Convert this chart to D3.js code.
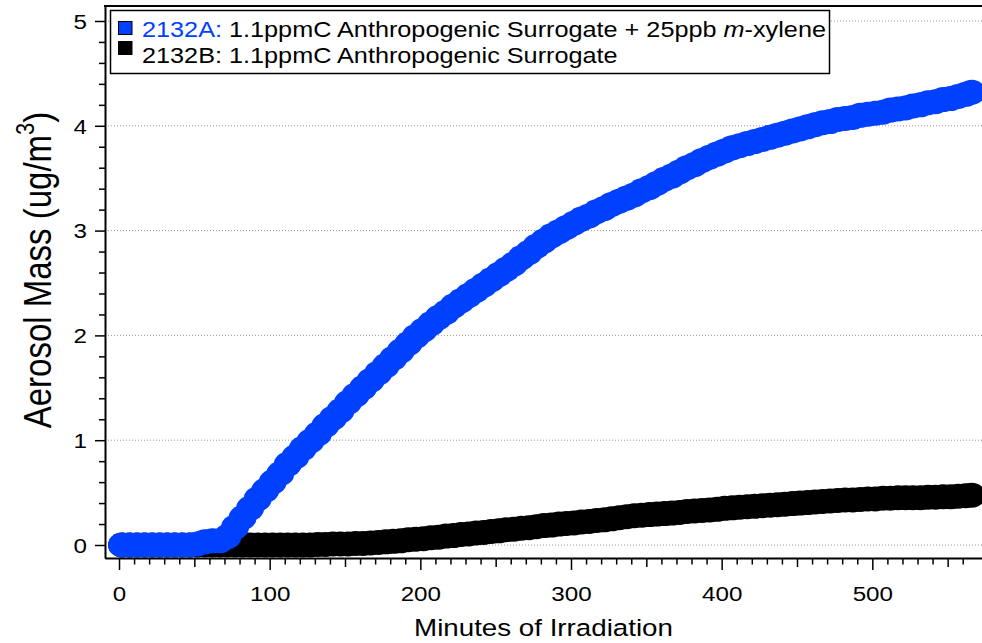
<!DOCTYPE html>
<html>
<head>
<meta charset="utf-8">
<script src="https://cdn.jsdelivr.net/npm/d3@7"></script>
<style>
  body { margin: 0; background: #fff; }
  svg { display: block; font-family: 'Liberation Sans', Arial, sans-serif; }
</style>
</head>
<body>
<div id="main"></div>
<script>
// minutes of irradiation (sampling times)
const minutes = [
  2, 7, 12, 17, 22, 27, 32, 37, 42, 47,
  52, 57, 62, 67, 72, 77, 82, 87, 92, 97,
  102, 107, 112, 117, 122, 127, 132, 137, 142, 147,
  152, 157, 162, 167, 172, 177, 182, 187, 192, 197,
  202, 207, 212, 217, 222, 227, 232, 237, 242, 247,
  252, 257, 262, 267, 272, 277, 282, 287, 292, 297,
  302, 307, 312, 317, 322, 327, 332, 337, 342, 347,
  352, 357, 362, 367, 372, 377, 382, 387, 392, 397,
  402, 407, 412, 417, 422, 427, 432, 437, 442, 447,
  452, 457, 462, 467, 472, 477, 482, 487, 492, 497,
  502, 507, 512, 517, 522, 527, 532, 537, 542, 547,
  552, 557, 562, 566
]

// 2132A: surrogate + 25ppb m-xylene
const massA = [
  0, 0, 0, 0, 0, 0, 0, 0, 0, 0,
  0.01, 0.03, 0.04, 0.04, 0.08, 0.17, 0.26, 0.35, 0.44, 0.52,
  0.60, 0.68, 0.77, 0.84, 0.92, 0.99, 1.06, 1.14, 1.21, 1.28,
  1.36, 1.43, 1.50, 1.57, 1.64, 1.71, 1.78, 1.85, 1.92, 1.99,
  2.05, 2.11, 2.17, 2.22, 2.28, 2.33, 2.38, 2.43, 2.48, 2.53,
  2.58, 2.63, 2.68, 2.74, 2.79, 2.85, 2.90, 2.95, 2.99, 3.03,
  3.07, 3.11, 3.14, 3.18, 3.21, 3.25, 3.28, 3.31, 3.34, 3.38,
  3.41, 3.45, 3.49, 3.52, 3.56, 3.60, 3.63, 3.67, 3.70, 3.73,
  3.76, 3.79, 3.81, 3.83, 3.85, 3.87, 3.89, 3.91, 3.93, 3.95,
  3.97, 3.99, 4.01, 4.03, 4.04, 4.06, 4.07, 4.08, 4.10, 4.11,
  4.12, 4.13, 4.15, 4.16, 4.17, 4.19, 4.20, 4.22, 4.23, 4.25,
  4.26, 4.28, 4.30, 4.32
]

// 2132B: surrogate only
const massB = [
  0, 0, 0, 0, 0, 0, 0, 0, 0, 0,
  0, 0, 0, 0, 0, 0, 0, 0, 0, 0,
  0, 0, 0, 0, 0, 0, 0.005, 0.005, 0.01, 0.01,
  0.01, 0.015, 0.015, 0.02, 0.025, 0.03, 0.035, 0.04, 0.05, 0.055,
  0.06, 0.07, 0.075, 0.085, 0.09, 0.10, 0.105, 0.115, 0.12, 0.13,
  0.135, 0.145, 0.15, 0.16, 0.165, 0.175, 0.185, 0.19, 0.20, 0.205,
  0.21, 0.22, 0.225, 0.235, 0.24, 0.25, 0.26, 0.27, 0.28, 0.285,
  0.29, 0.295, 0.30, 0.305, 0.31, 0.32, 0.325, 0.33, 0.335, 0.34,
  0.35, 0.355, 0.36, 0.365, 0.37, 0.375, 0.38, 0.385, 0.39, 0.395,
  0.40, 0.405, 0.41, 0.415, 0.42, 0.425, 0.43, 0.43, 0.435, 0.44,
  0.44, 0.445, 0.445, 0.45, 0.45, 0.45, 0.45, 0.455, 0.455, 0.46,
  0.46, 0.465, 0.47, 0.475
]

const xTicks = [0, 100, 200, 300, 400, 500]
const yTicks = [0, 1, 2, 3, 4, 5]

const w = 982, h = 643
const plotL = 105, plotR = 982, plotT = 6, plotB = 558
const blue = '#0040ff'
const sx = 1.18   // picture is a bit wider than tall, text follows

const svg = d3.select('#main')
            .append('svg')
            .attr('width', w)
            .attr('height', h)

const xScale = d3.scaleLinear()
                .domain([-9.3, 572.8])
                .range([plotL, plotR])

const yScale = d3.scaleLinear()
                .domain([-0.124, 5.143])
                .range([plotB, plotT])

// gridlines
svg.append('g')
    .selectAll('line')
    .data(yTicks)
    .enter()
    .append('line')
    .attr('x1', plotL)
    .attr('x2', plotR)
    .attr('y1', d => yScale(d))
    .attr('y2', d => yScale(d))
    .attr('stroke', '#9a9a9a')
    .attr('stroke-width', 1)
    .attr('stroke-dasharray', '1,2')

// markers: B first, A drawn on top
const rx = 14, ry = 12.5
svg.append('g')
    .selectAll('ellipse')
    .data(minutes)
    .enter()
    .append('ellipse')
    .attr('cx', d => xScale(d))
    .attr('cy', (d, i) => yScale(massB[i]))
    .attr('rx', rx)
    .attr('ry', ry)
    .attr('fill', '#000')

svg.append('g')
    .selectAll('ellipse')
    .data(minutes)
    .enter()
    .append('ellipse')
    .attr('cx', d => xScale(d))
    .attr('cy', (d, i) => yScale(massA[i]))
    .attr('rx', rx)
    .attr('ry', ry)
    .attr('fill', blue)

// axes
const xMinor = d3.range(10, 570, 10).filter(d => d % 100 !== 0)
const xAxisMinor = d3.axisBottom(xScale)
                    .tickValues(xMinor)
                    .tickSize(1)
                    .tickFormat('')
const gxm = svg.append('g')
    .attr('transform', 'translate(0,' + plotB + ')')
    .call(xAxisMinor)
gxm.selectAll('.tick line')
    .attr('y2', d => d % 50 === 0 ? 9 : 6.5)
    .attr('stroke-width', 1.5)

const xAxis = d3.axisBottom(xScale)
                .tickValues(xTicks)
                .tickSize(12)
                .tickFormat(d3.format('d'))
                .tickSizeOuter(0)
const gx = svg.append('g')
    .attr('id', 'x-axis')
    .attr('transform', 'translate(0,' + plotB + ')')
    .call(xAxis)
gx.select('.domain').attr('stroke-width', 2)
gx.selectAll('.tick line').attr('stroke-width', 1.5)
gx.selectAll('text')
    .attr('y', 0)
    .attr('dy', 0)
    .attr('transform', 'translate(0,43) scale(' + sx + ',1)')
    .style('font-size', '20.5px')
    .attr('fill', '#000')

const yMinor = d3.range(0.2, 5.1, 0.2).filter(d => Math.abs(d - Math.round(d)) > 0.01)
const yAxisMinor = d3.axisLeft(yScale)
                    .tickValues(yMinor)
                    .tickSize(6)
                    .tickFormat('')
const gym = svg.append('g')
    .attr('transform', 'translate(' + plotL + ',0)')
    .call(yAxisMinor)
gym.select('.domain').remove()
gym.selectAll('.tick line').attr('stroke-width', 1.5)

const yAxis = d3.axisLeft(yScale)
                .tickValues(yTicks)
                .tickSize(10)
                .tickFormat(d3.format('d'))
                .tickSizeOuter(0)
const gy = svg.append('g')
    .attr('id', 'y-axis')
    .attr('transform', 'translate(' + plotL + ',0)')
    .call(yAxis)
gy.select('.domain').attr('stroke-width', 2)
gy.selectAll('.tick line').attr('stroke-width', 1.5)
gy.selectAll('text')
    .attr('x', 0)
    .attr('dy', '0.36em')
    .attr('transform', 'translate(-18,0) scale(' + sx + ',1)')
    .style('font-size', '20.5px')
    .attr('fill', '#000')

// top frame
svg.append('line')
    .attr('x1', plotL - 1)
    .attr('x2', plotR)
    .attr('y1', plotT)
    .attr('y2', plotT)
    .attr('stroke', '#000')
    .attr('stroke-width', 2)

// axis titles
svg.append('text')
    .text('Minutes of Irradiation')
    .attr('transform', 'translate(' + (plotL + plotR) / 2 + ',636) scale(' + sx + ',1)')
    .attr('text-anchor', 'middle')
    .style('font-size', '23.5px')

const yTitle = svg.append('text')
    .attr('transform', 'translate(51,270) scale(' + sx + ',1) rotate(-90)')
    .attr('text-anchor', 'middle')
    .style('font-size', '33px')
yTitle.append('tspan').text('Aerosol Mass (ug/m')
yTitle.append('tspan').text('3').attr('dy', -14).style('font-size', '22px')
yTitle.append('tspan').text(')').attr('dy', 14)

// legend
const legend = svg.append('g').attr('id', 'legend')
legend.append('rect')
    .attr('x', 110.5)
    .attr('y', 10.5)
    .attr('width', 719)
    .attr('height', 63)
    .attr('fill', '#fff')
    .attr('stroke', '#000')
    .attr('stroke-width', 1.5)

legend.append('rect')
    .attr('x', 118.5)
    .attr('y', 21.5)
    .attr('width', 13.5)
    .attr('height', 13)
    .attr('fill', blue)
    .attr('stroke', '#000')
    .attr('stroke-width', 1)
legend.append('rect')
    .attr('x', 118.5)
    .attr('y', 41.5)
    .attr('width', 13.5)
    .attr('height', 13)
    .attr('fill', '#000')
    .attr('stroke', '#000')
    .attr('stroke-width', 1)

const row1 = legend.append('text')
    .attr('transform', 'translate(142,36.5) scale(' + sx + ',1)')
    .style('font-size', '21.4px')
row1.append('tspan').text('2132A:').attr('fill', blue)
row1.append('tspan').text(' 1.1ppmC Anthropogenic Surrogate + 25ppb ')
row1.append('tspan').text('m').style('font-style', 'italic')
row1.append('tspan').text('-xylene')

legend.append('text')
    .attr('transform', 'translate(142,62.5) scale(' + sx + ',1)')
    .style('font-size', '21.4px')
    .text('2132B: 1.1ppmC Anthropogenic Surrogate')
</script>
</body>
</html>
